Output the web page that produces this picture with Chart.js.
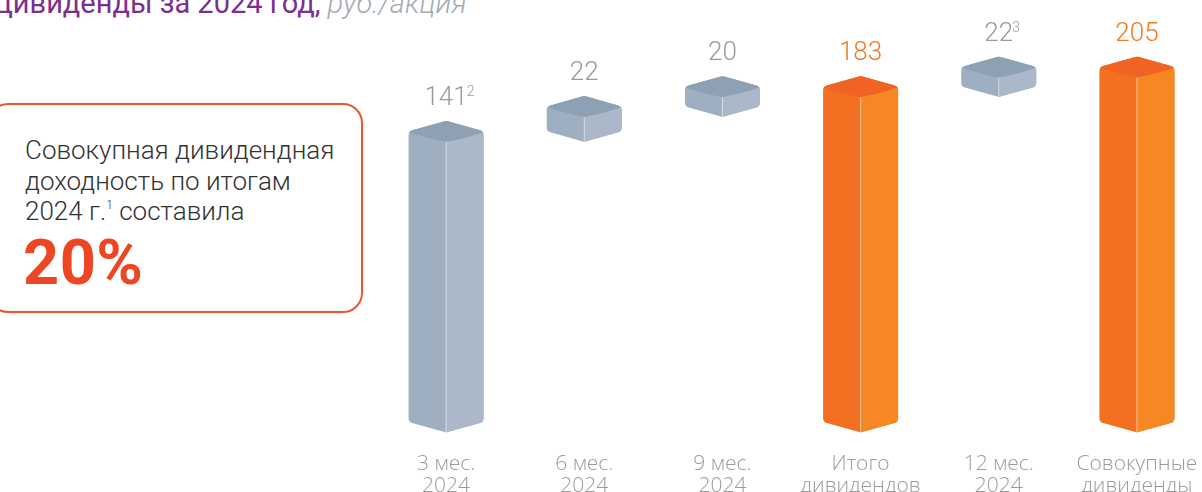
<!DOCTYPE html>
<html lang="ru">
<head>
<meta charset="utf-8">
<script src="https://cdn.jsdelivr.net/npm/chart.js@4.4.1/dist/chart.umd.min.js"></script>
<style>
  html, body { margin: 0; padding: 0; background: #fff; overflow: hidden; width: 1202px; height: 492px; }
  body { position: relative; font-family: 'Roboto', sans-serif; }
  #title { position: absolute; left: -9px; top: -11px; font-size: 29px; line-height: 29px; color: #7B2F8F; white-space: nowrap; }
  #title i { color: #A3ABB3; font-weight: 300; }
  #box { position: absolute; left: -12px; top: 103px; width: 375px; height: 210px; box-sizing: border-box;
         border: 2px solid #EC5530; border-radius: 20px; }
  #boxText { position: absolute; left: 25px; top: 135px; font-size: 26px; line-height: 30.5px; font-weight: 300; color: #333; white-space: nowrap; }
  #boxText sup { font-size: 12px; vertical-align: 11px; line-height: 0; }
  #big { position: absolute; left: 23px; top: 236px; font-size: 63px; line-height: 54px; font-weight: 700; color: #EE4523; letter-spacing: 0.5px; }
  #chart { position: absolute; left: 0; top: 0; }
</style>
</head>
<body>
<div id="title">Дивиденды за 2024 год, <i>руб./акция</i></div>
<div id="box"></div>
<div id="boxText">Совокупная дивидендная<br>доходность по итогам<br>2024 г.<sup>1</sup> составила</div>
<div id="big">20%</div>
<canvas id="chart" width="1240" height="528"></canvas>
<script>
// данные
const labels = [['3 мес.', '2024'], ['6 мес.', '2024'], ['9 мес.', '2024'], ['Итого', 'дивидендов'], ['12 мес.', '2024'], ['Совокупные', 'дивиденды']];
const values = [141, 22, 20, 183, 22, 205];
const fromBase = [true, false, false, true, false, true];
const orangeBars = [false, false, false, true, false, true];
const notes = ['2', '', '', '', '3', ''];

// водопад: столбцы от основания и плавающие приросты
const ranges = [];
let running = 0;
values.forEach(function (v, i) {
    if (fromBase[i]) {
        ranges.push(v);
        running = v;
    } else {
        ranges.push([running, running + v]);
        running += v;
    }
});

const gray = { left: '#9EAFC1', right: '#ABB8C9', top: '#8EA1B4', text: '#9B9B9B' };
const orange = { left: '#F37022', right: '#F58823', top: '#F06322', text: '#F47A20' };

function drawCube(ctx, x, top, bot, w, c) {
    const hw = w / 2, h = 10.5, r = 5;
    ctx.save();
    ctx.beginPath();
    ctx.moveTo(x + hw / 2, top - h / 2);
    ctx.arcTo(x + hw, top, x + hw, bot, r);
    ctx.arcTo(x + hw, bot, x, bot + h, r);
    ctx.arcTo(x, bot + h, x - hw, bot, 2);
    ctx.arcTo(x - hw, bot, x - hw, top, r);
    ctx.arcTo(x - hw, top, x, top - h, r);
    ctx.arcTo(x, top - h, x + hw, top, 6);
    ctx.closePath();
    ctx.fillStyle = c.left;
    ctx.fill();
    ctx.clip();
    // правая грань
    ctx.fillStyle = c.right;
    ctx.fillRect(x, top - h - 2, hw + 2, bot - top + 2 * h + 4);
    // верхняя грань
    ctx.beginPath();
    ctx.moveTo(x - hw - 2, top);
    ctx.lineTo(x, top - h - 2);
    ctx.lineTo(x + hw + 2, top);
    ctx.quadraticCurveTo(x + hw / 2, top + h / 2 + 2, x, top + h);
    ctx.quadraticCurveTo(x - hw / 2, top + h / 2 + 2, x - hw - 2, top);
    ctx.closePath();
    ctx.fillStyle = c.top;
    ctx.fill();
    // линия ребра
    ctx.beginPath();
    ctx.moveTo(x, top + h);
    ctx.lineTo(x, bot + h + 2);
    ctx.strokeStyle = 'rgba(255,255,255,0.55)';
    ctx.lineWidth = 1;
    ctx.stroke();
    ctx.restore();
}

const cubePlugin = {
    id: 'cube3d',
    afterDatasetsDraw(chart) {
        const ctx = chart.ctx;
        const meta = chart.getDatasetMeta(0);
        meta.data.forEach(function (bar, i) {
            const p = bar.getProps(['x', 'y', 'base', 'width'], true);
            const top = Math.min(p.y, p.base), bot = Math.max(p.y, p.base);
            const c = orangeBars[i] ? orange : gray;
            drawCube(ctx, p.x, top, bot, p.width, c);

            // подпись значения
            const txt = String(values[i]);
            const yText = top - 10.5 - 16;
            ctx.save();
            ctx.fillStyle = c.text;
            ctx.font = '300 26px Roboto, sans-serif';
            ctx.textAlign = 'center';
            ctx.textBaseline = 'alphabetic';
            ctx.fillText(txt, p.x, yText);
            if (notes[i]) {
                const tw = ctx.measureText(txt).width;
                ctx.font = '300 14px Roboto, sans-serif';
                ctx.textAlign = 'left';
                ctx.fillText(notes[i], p.x + tw / 2 - 1, yText - 9);
            }
            ctx.restore();
        });
    }
};

const ctxChart = document.getElementById('chart').getContext('2d');
new Chart(ctxChart, {
    type: 'bar',
    data: {
        labels: labels,
        datasets: [{
            data: ranges,
            backgroundColor: 'rgba(0,0,0,0)',
            borderWidth: 0,
            barPercentage: 1,
            categoryPercentage: 0.543
        }]
    },
    options: {
        responsive: false,
        animation: false,
        devicePixelRatio: 1,
        layout: { padding: { left: 377, right: 34, top: 67, bottom: 0 } },
        plugins: {
            legend: { display: false },
            tooltip: { enabled: false }
        },
        scales: {
            x: {
                grid: { display: false, drawTicks: false },
                border: { display: false },
                ticks: {
                    color: '#9B9B9B',
                    padding: 31,
                    maxRotation: 0,
                    autoSkip: false,
                    font: { family: "'Open Sans', sans-serif", size: 21, weight: '300', lineHeight: '22px' }
                }
            },
            y: {
                type: 'logarithmic',
                display: false,
                bounds: 'data',
                min: 26,
                max: 205
            }
        }
    },
    plugins: [cubePlugin]
});
</script>
</body>
</html>
